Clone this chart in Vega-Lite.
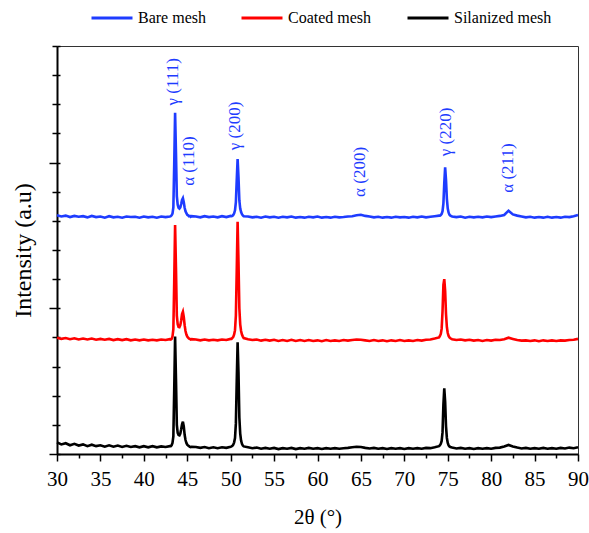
{
"$schema": "https://vega.github.io/schema/vega-lite/v6.json",
"width": 521, "height": 408,
"autosize": {"type": "none"},
"padding": {"left": 57, "top": 46, "right": 11, "bottom": 79},
"config": {
  "view": {"stroke": "#333333", "strokeWidth": 1},
  "font": "Liberation Serif",
  "axis": {"labelFont": "Liberation Serif", "titleFont": "Liberation Serif", "labelColor": "#000000", "titleColor": "#000000", "titleFontWeight": "normal", "domainColor": "#000000", "tickColor": "#000000", "grid": false}
},
"resolve": {"axis": {"y": "independent"}},
"datasets": {
"bare": [
{"x":30,"y":8.19},{"x":30.5,"y":8.15},{"x":31,"y":8.18},{"x":31.5,"y":8.13},{"x":32,"y":8.17},{"x":32.5,"y":8.14},{"x":33,"y":8.16},{"x":33.5,"y":8.12},{"x":34,"y":8.17},{"x":34.5,"y":8.13},{"x":35,"y":8.15},{"x":35.5,"y":8.11},{"x":36,"y":8.16},{"x":36.5,"y":8.12},{"x":37,"y":8.14},{"x":37.5,"y":8.11},{"x":38,"y":8.15},{"x":38.5,"y":8.13},{"x":39,"y":8.14},{"x":39.5,"y":8.11},{"x":40,"y":8.15},{"x":40.5,"y":8.12},{"x":41,"y":8.14},{"x":41.5,"y":8.11},{"x":42,"y":8.15},{"x":42.5,"y":8.13},{"x":43,"y":8.15},
{"x":43.1,"y":8.16},{"x":43.2,"y":8.19},{"x":43.3,"y":8.25},{"x":43.4,"y":8.46},{"x":43.5,"y":9.93},{"x":43.6,"y":11.71},{"x":43.7,"y":10.35},{"x":43.8,"y":8.85},{"x":43.9,"y":8.55},{"x":44,"y":8.45},{"x":44.1,"y":8.42},{"x":44.2,"y":8.46},{"x":44.3,"y":8.58},{"x":44.4,"y":8.72},{"x":44.5,"y":8.78},{"x":44.6,"y":8.64},{"x":44.7,"y":8.45},{"x":44.8,"y":8.33},{"x":44.9,"y":8.26},{"x":45,"y":8.21},{"x":45.1,"y":8.19},{"x":45.2,"y":8.16},{"x":45.3,"y":8.17},{"x":45.4,"y":8.14},{"x":45.5,"y":8.16},
{"x":46,"y":8.15},{"x":46.5,"y":8.12},{"x":47,"y":8.16},{"x":47.5,"y":8.13},{"x":48,"y":8.15},{"x":48.5,"y":8.12},{"x":49,"y":8.16},{"x":49.5,"y":8.13},{"x":50,"y":8.17},
{"x":50.1,"y":8.16},{"x":50.2,"y":8.17},{"x":50.3,"y":8.2},{"x":50.4,"y":8.26},{"x":50.5,"y":8.36},{"x":50.6,"y":8.64},{"x":50.7,"y":9.4},{"x":50.8,"y":10.12},{"x":50.9,"y":9.5},{"x":51,"y":8.7},{"x":51.1,"y":8.42},{"x":51.2,"y":8.3},{"x":51.3,"y":8.23},{"x":51.4,"y":8.19},{"x":51.5,"y":8.16},
{"x":52,"y":8.15},{"x":52.5,"y":8.12},{"x":53,"y":8.14},{"x":53.5,"y":8.11},{"x":54,"y":8.15},{"x":54.5,"y":8.12},{"x":55,"y":8.14},{"x":55.5,"y":8.11},{"x":56,"y":8.14},{"x":56.5,"y":8.12},{"x":57,"y":8.15},{"x":57.5,"y":8.11},{"x":58,"y":8.13},{"x":58.5,"y":8.11},{"x":59,"y":8.14},{"x":59.5,"y":8.12},{"x":60,"y":8.15},{"x":60.5,"y":8.11},{"x":61,"y":8.13},{"x":61.5,"y":8.11},{"x":62,"y":8.14},{"x":62.5,"y":8.12},{"x":63,"y":8.13},{"x":63.5,"y":8.15},{"x":64,"y":8.16},{"x":64.5,"y":8.19},{"x":65,"y":8.21},{"x":65.5,"y":8.17},{"x":66,"y":8.15},{"x":66.5,"y":8.12},{"x":67,"y":8.14},{"x":67.5,"y":8.11},{"x":68,"y":8.13},{"x":68.5,"y":8.11},{"x":69,"y":8.14},{"x":69.5,"y":8.12},{"x":70,"y":8.13},{"x":70.5,"y":8.11},{"x":71,"y":8.14},{"x":71.5,"y":8.12},{"x":72,"y":8.15},{"x":72.5,"y":8.12},{"x":73,"y":8.14},{"x":73.5,"y":8.16},{"x":74,"y":8.18},
{"x":74.1,"y":8.18},{"x":74.2,"y":8.2},{"x":74.3,"y":8.24},{"x":74.4,"y":8.33},{"x":74.5,"y":8.6},{"x":74.6,"y":9.3},{"x":74.7,"y":9.84},{"x":74.8,"y":9.4},{"x":74.9,"y":8.75},{"x":75,"y":8.42},{"x":75.1,"y":8.28},{"x":75.2,"y":8.21},{"x":75.3,"y":8.18},
{"x":75.5,"y":8.15},{"x":76,"y":8.13},{"x":76.5,"y":8.15},{"x":77,"y":8.11},{"x":77.5,"y":8.14},{"x":78,"y":8.12},{"x":78.5,"y":8.14},{"x":79,"y":8.12},{"x":79.5,"y":8.15},{"x":80,"y":8.13},{"x":80.5,"y":8.15},{"x":81,"y":8.17},{"x":81.5,"y":8.2},{"x":82,"y":8.35},{"x":82.5,"y":8.22},{"x":83,"y":8.18},{"x":83.5,"y":8.15},{"x":84,"y":8.12},{"x":84.5,"y":8.14},{"x":85,"y":8.11},{"x":85.5,"y":8.13},{"x":86,"y":8.11},{"x":86.5,"y":8.14},{"x":87,"y":8.11},{"x":87.5,"y":8.13},{"x":88,"y":8.11},{"x":88.5,"y":8.14},{"x":89,"y":8.13},{"x":89.5,"y":8.16},{"x":90,"y":8.2}
],
"coated": [
{"x":30,"y":3.99},{"x":30.5,"y":3.95},{"x":31,"y":3.98},{"x":31.5,"y":3.94},{"x":32,"y":3.97},{"x":32.5,"y":3.93},{"x":33,"y":3.96},{"x":33.5,"y":3.93},{"x":34,"y":3.96},{"x":34.5,"y":3.92},{"x":35,"y":3.95},{"x":35.5,"y":3.92},{"x":36,"y":3.95},{"x":36.5,"y":3.91},{"x":37,"y":3.94},{"x":37.5,"y":3.91},{"x":38,"y":3.94},{"x":38.5,"y":3.9},{"x":39,"y":3.93},{"x":39.5,"y":3.9},{"x":40,"y":3.93},{"x":40.5,"y":3.9},{"x":41,"y":3.92},{"x":41.5,"y":3.9},{"x":42,"y":3.93},{"x":42.5,"y":3.91},{"x":43,"y":3.94},
{"x":43.1,"y":3.93},{"x":43.2,"y":3.95},{"x":43.3,"y":4.03},{"x":43.4,"y":4.28},{"x":43.5,"y":5.9},{"x":43.6,"y":7.86},{"x":43.7,"y":6.4},{"x":43.8,"y":4.75},{"x":43.9,"y":4.45},{"x":44,"y":4.36},{"x":44.1,"y":4.35},{"x":44.2,"y":4.42},{"x":44.3,"y":4.58},{"x":44.4,"y":4.8},{"x":44.5,"y":4.88},{"x":44.6,"y":4.7},{"x":44.7,"y":4.42},{"x":44.8,"y":4.22},{"x":44.9,"y":4.1},{"x":45,"y":4.03},{"x":45.1,"y":3.99},{"x":45.2,"y":3.96},{"x":45.3,"y":3.95},{"x":45.4,"y":3.93},{"x":45.5,"y":3.94},
{"x":46,"y":3.93},{"x":46.5,"y":3.9},{"x":47,"y":3.93},{"x":47.5,"y":3.9},{"x":48,"y":3.92},{"x":48.5,"y":3.9},{"x":49,"y":3.93},{"x":49.5,"y":3.91},{"x":50,"y":3.95},
{"x":50.1,"y":3.95},{"x":50.2,"y":3.98},{"x":50.3,"y":4.02},{"x":50.4,"y":4.1},{"x":50.5,"y":4.25},{"x":50.6,"y":4.75},{"x":50.7,"y":6.3},{"x":50.8,"y":7.97},{"x":50.9,"y":6.6},{"x":51,"y":5.0},{"x":51.1,"y":4.45},{"x":51.2,"y":4.22},{"x":51.3,"y":4.1},{"x":51.4,"y":4.03},{"x":51.5,"y":3.98},
{"x":52,"y":3.94},{"x":52.5,"y":3.91},{"x":53,"y":3.93},{"x":53.5,"y":3.89},{"x":54,"y":3.92},{"x":54.5,"y":3.89},{"x":55,"y":3.92},{"x":55.5,"y":3.88},{"x":56,"y":3.91},{"x":56.5,"y":3.88},{"x":57,"y":3.92},{"x":57.5,"y":3.88},{"x":58,"y":3.91},{"x":58.5,"y":3.88},{"x":59,"y":3.91},{"x":59.5,"y":3.88},{"x":60,"y":3.9},{"x":60.5,"y":3.87},{"x":61,"y":3.91},{"x":61.5,"y":3.88},{"x":62,"y":3.9},{"x":62.5,"y":3.88},{"x":63,"y":3.91},{"x":63.5,"y":3.89},{"x":64,"y":3.91},{"x":64.5,"y":3.93},{"x":65,"y":3.92},{"x":65.5,"y":3.9},{"x":66,"y":3.88},{"x":66.5,"y":3.91},{"x":67,"y":3.88},{"x":67.5,"y":3.9},{"x":68,"y":3.87},{"x":68.5,"y":3.9},{"x":69,"y":3.88},{"x":69.5,"y":3.91},{"x":70,"y":3.88},{"x":70.5,"y":3.9},{"x":71,"y":3.88},{"x":71.5,"y":3.91},{"x":72,"y":3.89},{"x":72.5,"y":3.92},{"x":73,"y":3.93},{"x":73.5,"y":3.96},{"x":74,"y":4.0},
{"x":74.1,"y":4.05},{"x":74.2,"y":4.12},{"x":74.3,"y":4.3},{"x":74.4,"y":4.9},{"x":74.5,"y":5.8},{"x":74.6,"y":6.0},{"x":74.7,"y":5.6},{"x":74.8,"y":4.8},{"x":74.9,"y":4.35},{"x":75,"y":4.15},{"x":75.1,"y":4.05},{"x":75.2,"y":4.0},{"x":75.3,"y":3.97},
{"x":75.5,"y":3.94},{"x":76,"y":3.91},{"x":76.5,"y":3.93},{"x":77,"y":3.9},{"x":77.5,"y":3.92},{"x":78,"y":3.89},{"x":78.5,"y":3.91},{"x":79,"y":3.88},{"x":79.5,"y":3.91},{"x":80,"y":3.89},{"x":80.5,"y":3.92},{"x":81,"y":3.91},{"x":81.5,"y":3.94},{"x":82,"y":3.99},{"x":82.5,"y":3.95},{"x":83,"y":3.91},{"x":83.5,"y":3.89},{"x":84,"y":3.9},{"x":84.5,"y":3.88},{"x":85,"y":3.9},{"x":85.5,"y":3.87},{"x":86,"y":3.9},{"x":86.5,"y":3.88},{"x":87,"y":3.9},{"x":87.5,"y":3.88},{"x":88,"y":3.9},{"x":88.5,"y":3.89},{"x":89,"y":3.91},{"x":89.5,"y":3.92},{"x":90,"y":3.95}
],
"silanized": [
{"x":30,"y":0.4},{"x":30.5,"y":0.33},{"x":31,"y":0.37},{"x":31.5,"y":0.3},{"x":32,"y":0.35},{"x":32.5,"y":0.29},{"x":33,"y":0.33},{"x":33.5,"y":0.27},{"x":34,"y":0.32},{"x":34.5,"y":0.27},{"x":35,"y":0.3},{"x":35.5,"y":0.25},{"x":36,"y":0.3},{"x":36.5,"y":0.25},{"x":37,"y":0.29},{"x":37.5,"y":0.24},{"x":38,"y":0.28},{"x":38.5,"y":0.24},{"x":39,"y":0.27},{"x":39.5,"y":0.23},{"x":40,"y":0.27},{"x":40.5,"y":0.23},{"x":41,"y":0.27},{"x":41.5,"y":0.23},{"x":42,"y":0.26},{"x":42.5,"y":0.24},{"x":43,"y":0.27},
{"x":43.1,"y":0.27},{"x":43.2,"y":0.3},{"x":43.3,"y":0.38},{"x":43.4,"y":0.6},{"x":43.5,"y":2.2},{"x":43.6,"y":4.03},{"x":43.7,"y":2.6},{"x":43.8,"y":1.0},{"x":43.9,"y":0.72},{"x":44,"y":0.65},{"x":44.1,"y":0.64},{"x":44.2,"y":0.7},{"x":44.3,"y":0.85},{"x":44.4,"y":1.02},{"x":44.5,"y":1.11},{"x":44.6,"y":0.95},{"x":44.7,"y":0.66},{"x":44.8,"y":0.48},{"x":44.9,"y":0.38},{"x":45,"y":0.32},{"x":45.1,"y":0.29},{"x":45.2,"y":0.27},{"x":45.3,"y":0.25},{"x":45.4,"y":0.24},{"x":45.5,"y":0.25},
{"x":46,"y":0.24},{"x":46.5,"y":0.21},{"x":47,"y":0.24},{"x":47.5,"y":0.2},{"x":48,"y":0.23},{"x":48.5,"y":0.2},{"x":49,"y":0.23},{"x":49.5,"y":0.21},{"x":50,"y":0.25},
{"x":50.1,"y":0.26},{"x":50.2,"y":0.28},{"x":50.3,"y":0.32},{"x":50.4,"y":0.4},{"x":50.5,"y":0.55},{"x":50.6,"y":1.05},{"x":50.7,"y":2.5},{"x":50.8,"y":3.83},{"x":50.9,"y":2.8},{"x":51,"y":1.25},{"x":51.1,"y":0.7},{"x":51.2,"y":0.46},{"x":51.3,"y":0.35},{"x":51.4,"y":0.29},{"x":51.5,"y":0.26},
{"x":52,"y":0.23},{"x":52.5,"y":0.2},{"x":53,"y":0.22},{"x":53.5,"y":0.18},{"x":54,"y":0.21},{"x":54.5,"y":0.18},{"x":55,"y":0.21},{"x":55.5,"y":0.17},{"x":56,"y":0.2},{"x":56.5,"y":0.18},{"x":57,"y":0.21},{"x":57.5,"y":0.17},{"x":58,"y":0.2},{"x":58.5,"y":0.18},{"x":59,"y":0.21},{"x":59.5,"y":0.18},{"x":60,"y":0.2},{"x":60.5,"y":0.17},{"x":61,"y":0.2},{"x":61.5,"y":0.18},{"x":62,"y":0.2},{"x":62.5,"y":0.18},{"x":63,"y":0.2},{"x":63.5,"y":0.21},{"x":64,"y":0.23},{"x":64.5,"y":0.25},{"x":65,"y":0.24},{"x":65.5,"y":0.21},{"x":66,"y":0.19},{"x":66.5,"y":0.21},{"x":67,"y":0.18},{"x":67.5,"y":0.2},{"x":68,"y":0.17},{"x":68.5,"y":0.2},{"x":69,"y":0.18},{"x":69.5,"y":0.2},{"x":70,"y":0.17},{"x":70.5,"y":0.2},{"x":71,"y":0.18},{"x":71.5,"y":0.2},{"x":72,"y":0.18},{"x":72.5,"y":0.21},{"x":73,"y":0.2},{"x":73.5,"y":0.23},{"x":74,"y":0.27},
{"x":74.1,"y":0.3},{"x":74.2,"y":0.35},{"x":74.3,"y":0.45},{"x":74.4,"y":0.75},{"x":74.5,"y":1.7},{"x":74.6,"y":2.25},{"x":74.7,"y":1.8},{"x":74.8,"y":0.95},{"x":74.9,"y":0.55},{"x":75,"y":0.38},{"x":75.1,"y":0.3},{"x":75.2,"y":0.26},{"x":75.3,"y":0.24},
{"x":75.5,"y":0.22},{"x":76,"y":0.19},{"x":76.5,"y":0.21},{"x":77,"y":0.18},{"x":77.5,"y":0.2},{"x":78,"y":0.17},{"x":78.5,"y":0.2},{"x":79,"y":0.18},{"x":79.5,"y":0.2},{"x":80,"y":0.18},{"x":80.5,"y":0.21},{"x":81,"y":0.22},{"x":81.5,"y":0.26},{"x":82,"y":0.31},{"x":82.5,"y":0.26},{"x":83,"y":0.22},{"x":83.5,"y":0.19},{"x":84,"y":0.21},{"x":84.5,"y":0.18},{"x":85,"y":0.2},{"x":85.5,"y":0.18},{"x":86,"y":0.21},{"x":86.5,"y":0.18},{"x":87,"y":0.2},{"x":87.5,"y":0.18},{"x":88,"y":0.21},{"x":88.5,"y":0.19},{"x":89,"y":0.22},{"x":89.5,"y":0.2},{"x":90,"y":0.23}
],
"labels": [
{"x":43.36,"y":12.77,"label":"γ (111)"},
{"x":45.24,"y":10.05,"label":"α (110)"},
{"x":50.5,"y":11.26,"label":"γ (200)"},
{"x":64.9,"y":9.68,"label":"α (200)"},
{"x":74.8,"y":11.05,"label":"γ (220)"},
{"x":81.96,"y":9.81,"label":"α (211)"}
]
},
"layer": [
{
 "layer": [
 {
  "data": {"name": "silanized"},
  "mark": {"type": "line", "strokeWidth": 2.6},
  "encoding": {
   "x": {"field": "x", "type": "quantitative", "scale": {"domain": [30, 90], "nice": false, "zero": false},
         "axis": {"title": "2θ (°)", "values": [30,32.5,35,37.5,40,42.5,45,47.5,50,52.5,55,57.5,60,62.5,65,67.5,70,72.5,75,77.5,80,82.5,85,87.5,90],
                  "tickCount": 100, "labelExpr": "datum.value % 5 === 0 ? format(datum.value, 'd') : ''", "labelFont": "Liberation Serif", "labelFontSize": 21, "labelPadding": 7, "labelFlush": false, "labelOverlap": false,
                  "tickSize": {"condition": {"test": "datum.value % 5 === 0", "value": 7}, "value": 4},
                  "tickWidth": 1.5, "domainWidth": 2, "titleFont": "Liberation Serif", "titleFontSize": 21, "titlePadding": 17}},
   "y": {"field": "y", "type": "quantitative", "scale": {"domain": [0, 14], "nice": false, "zero": false},
         "axis": {"title": "Intensity (a.u)", "values": [0,1,2,3,4,5,6,7,8,9,10,11,12,13,14], "tickCount": 100, "labels": false,
                  "tickSize": {"condition": {"test": "datum.value % 5 === 0", "value": 8}, "value": 5},
                  "tickWidth": 1.5, "domainWidth": 2, "titleFont": "Liberation Serif", "titleFontSize": 24, "titlePadding": 13}},
   "color": {"datum": "Silanized mesh", "type": "nominal",
             "scale": {"domain": ["Bare mesh", "Coated mesh", "Silanized mesh"], "range": ["#1e3cff", "#ff0000", "#000000"]},
             "legend": {"orient": "none", "legendX": 33, "legendY": -50, "direction": "horizontal", "title": null,
                        "symbolType": "stroke", "symbolSize": 1681, "symbolStrokeWidth": 3, "labelFontSize": 16,
                        "labelFont": "Liberation Serif", "labelColor": "#000000", "columnPadding": 29, "labelOffset": 4}}
  }
 },
 {
  "data": {"name": "coated"},
  "mark": {"type": "line", "strokeWidth": 2.6},
  "encoding": {
   "x": {"field": "x", "type": "quantitative"},
   "y": {"field": "y", "type": "quantitative"},
   "color": {"datum": "Coated mesh", "type": "nominal"}
  }
 },
 {
  "data": {"name": "bare"},
  "mark": {"type": "line", "strokeWidth": 2.6},
  "encoding": {
   "x": {"field": "x", "type": "quantitative"},
   "y": {"field": "y", "type": "quantitative"},
   "color": {"datum": "Bare mesh", "type": "nominal"}
  }
 }
 ]
},
{
 "data": {"name": "labels"},
 "mark": {"type": "text", "angle": 270, "align": "center", "baseline": "middle", "font": "Liberation Serif", "fontSize": 17, "color": "#1e3cff"},
 "encoding": {
  "x": {"field": "x", "type": "quantitative"},
  "y": {"field": "y", "type": "quantitative",
        "axis": {"orient": "left", "title": null, "labels": false, "domain": false, "values": [0,1,2,3,4,5,6,7,8,9,10,11,12,13,14], "tickCount": 100, "tickSize": -3, "tickWidth": 1.5, "offset": 0}},
  "text": {"field": "label"}
 }
}
]
}
